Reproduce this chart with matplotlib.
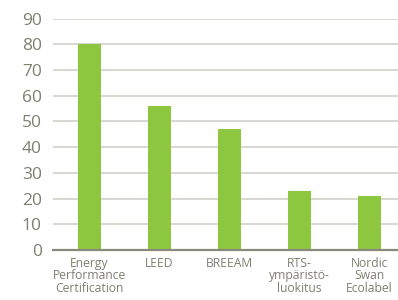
import numpy as np
import matplotlib.pyplot as plt

categories = ['Energy\nPerformance\nCertification', 'LEED', 'BREEAM',
              'RTS-\nympäristö-\nluokitus', 'Nordic\nSwan\nEcolabel']
values = [80, 56, 47, 23, 21]
yticks = [0, 10, 20, 30, 40, 50, 60, 70, 80, 90]

plt.rcParams['font.family'] = ['Open Sans', 'DejaVu Sans']

fig = plt.figure(figsize=(3.98, 3.0), dpi=100)
ax = fig.add_axes([0.133, 0.1667, 0.867, 0.771])

x = np.arange(len(categories))
ax.bar(x, values, width=0.33, color='#8dc63f', zorder=3)

ax.set_ylim(0, 90)
ax.set_xlim(-0.52, len(categories) - 1 + 0.41)
ax.set_yticks(yticks)
ax.set_yticklabels([str(t) for t in yticks], fontsize=12.5, color='#7f7f70')
ax.set_xticks(x)
ax.set_xticklabels(categories, fontsize=8.7, color='#7f7f70', linespacing=0.95)
ax.tick_params(axis='y', length=0, pad=8)
ax.tick_params(axis='x', length=0, pad=5)

ax.grid(axis='y', color='#d4d4cb', linewidth=1.3, zorder=0)
for s in ['top', 'right', 'left']:
    ax.spines[s].set_visible(False)
ax.spines['bottom'].set_color('#8a8a7a')
ax.spines['bottom'].set_linewidth(1.6)
ax.spines['bottom'].set_zorder(4)

fig.savefig('out.png', dpi=100)
